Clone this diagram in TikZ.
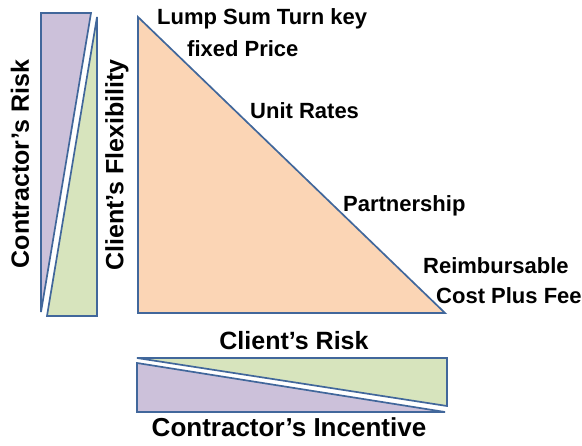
\documentclass[tikz,border=0pt]{standalone}
\usepackage{fontspec}
\setmainfont{Liberation Sans}
\definecolor{edgeblue}{HTML}{41679B}
\definecolor{peach}{HTML}{FBD5B5}
\definecolor{lilac}{HTML}{CCC1DA}
\definecolor{sage}{HTML}{D7E4BD}
\begin{document}
\begin{tikzpicture}[x=1pt,y=-1pt,
  wedge/.style={draw=edgeblue,line width=1.7pt,line join=miter},
  axislabel/.style={font=\bfseries\fontsize{25}{28}\selectfont,inner sep=0pt},
  typelabel/.style={font=\bfseries\fontsize{22}{24}\selectfont,inner sep=0pt,anchor=west}]
\useasboundingbox (0,0) rectangle (582,446);

% left bar: contractor's risk against client's flexibility
\filldraw[wedge,fill=lilac] (41,13) -- (91,13) -- (41,312) -- cycle;
\filldraw[wedge,fill=sage] (97,17) -- (97,316) -- (47,316) -- cycle;

% main triangle
\filldraw[wedge,fill=peach] (138,17) -- (138,313) -- (445,313) -- cycle;

% bottom bar: client's risk against contractor's incentive
\filldraw[wedge,fill=sage] (137,358) -- (447,358) -- (447,406) -- cycle;
\filldraw[wedge,fill=lilac] (137,363) -- (137,412) -- (445,412) -- cycle;

% axis labels
\node[axislabel,rotate=90] (crisk) at (20,164) {Contractor’s Risk};
\node[axislabel,rotate=90] (cflex) at (117,165) {Client’s Flexibility};
\node[axislabel] (clrisk) at (294,341) {Client’s Risk};
\node[axislabel,font=\bfseries\fontsize{26}{28}\selectfont] (cinc) at (289,427) {Contractor’s Incentive};

% contract types along the hypotenuse
\node[typelabel] (lump) at (157,19) {Lump Sum Turn key};
\node[typelabel] (fixed) at (187,49) {fixed Price};
\node[typelabel] (unit) at (250,111) {Unit Rates};
\node[typelabel] (part) at (343,206) {Partnership};
\node[typelabel] (reimb) at (423,266) {Reimbursable};
\node[typelabel] (cost) at (436,296) {Cost Plus Fee};
\end{tikzpicture}
\end{document}
